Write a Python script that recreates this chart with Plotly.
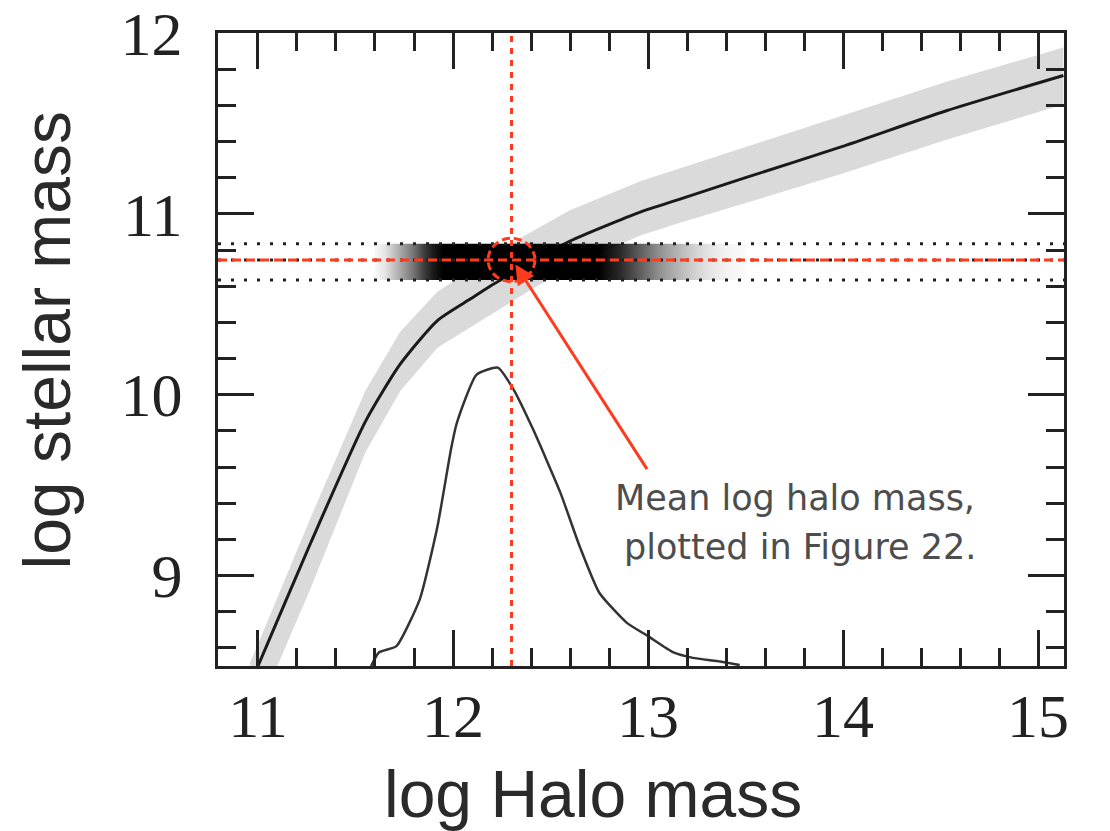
import plotly.graph_objects as go

# ---------------- data ----------------
# stellar-to-halo mass relation (mean line and scatter band)
shmr_x = [10.96, 11.00, 11.27, 11.55, 11.73, 11.92, 12.09, 12.19, 12.40, 12.60, 12.96, 13.16, 13.50, 13.99, 14.53, 15.13]
shmr_mean = [8.40, 8.50, 9.18, 9.85, 10.17, 10.41, 10.53, 10.60, 10.73, 10.85, 11.01, 11.08, 11.20, 11.37, 11.57, 11.765]
shmr_upper = [8.52, 8.62, 9.32, 10.02, 10.35, 10.57, 10.69, 10.77, 10.90, 11.02, 11.18, 11.25, 11.37, 11.54, 11.73, 11.92]
shmr_lower = [8.15, 8.25, 8.93, 9.68, 10.02, 10.26, 10.37, 10.44, 10.58, 10.71, 10.88, 10.95, 11.06, 11.22, 11.41, 11.605]

# halo-mass distribution curve (drawn in stellar-mass units)
hist_x = [11.58, 11.62, 11.71, 11.83, 11.92, 11.99, 12.02, 12.12, 12.23, 12.31, 12.41, 12.55,
          12.65, 12.75, 12.89, 13.00, 13.13, 13.23, 13.37, 13.47]
hist_y = [8.50, 8.575, 8.61, 8.87, 9.27, 9.70, 9.845, 10.11, 10.15, 10.03, 9.81, 9.46,
          9.16, 8.905, 8.74, 8.665, 8.575, 8.545, 8.525, 8.505]

# density of the galaxy point cloud inside the stellar-mass bin
cloud_x = [11.60, 11.65, 11.70, 11.75, 11.80, 11.85, 11.90, 11.95,
           12.00, 12.05, 12.10, 12.15, 12.20, 12.25, 12.30, 12.35,
           12.40, 12.45, 12.50, 12.55, 12.60, 12.65, 12.70, 12.75,
           12.80, 12.85, 12.90, 12.95, 13.00, 13.05, 13.10, 13.15,
           13.20, 13.25, 13.30, 13.35, 13.40, 13.45, 13.50]
cloud_density = [0.03, 0.10, 0.25, 0.40, 0.55, 0.75, 0.90, 1.00,
                 1.00, 1.00, 1.00, 1.00, 1.00, 1.00, 1.00, 1.00,
                 1.00, 1.00, 1.00, 1.00, 1.00, 1.00, 1.00, 1.00,
                 0.92, 0.85, 0.75, 0.65, 0.55, 0.45, 0.37, 0.30,
                 0.23, 0.17, 0.12, 0.08, 0.05, 0.03, 0.02]

# stellar-mass bin and means
bin_low = 10.634
bin_high = 10.835
mean_stellar = 10.745
mean_halo = 12.30

# arrow from label to the mean point
arrow_tail = (13.00, 9.58)
arrow_tip = (12.32, 10.72)

label_line1 = "Mean log halo mass,"
label_line2 = "plotted in Figure 22."
label_pos1 = (12.82, 9.43)
label_pos2 = (12.867, 9.16)

x_range = [10.795, 15.133]
y_range = [8.5, 12.0]
x_ticks = [11, 12, 13, 14, 15]
y_ticks = [9, 10, 11, 12]

RED = "#ff3b1e"
INK = "#222222"

fig = go.Figure()

# grey scatter band
fig.add_trace(go.Scatter(
    x=shmr_x + shmr_x[::-1], y=shmr_upper + shmr_lower[::-1],
    fill="toself", fillcolor="#dadada", line=dict(width=0),
    mode="lines", hoverinfo="skip", showlegend=False))

# mean relation
fig.add_trace(go.Scatter(
    x=shmr_x, y=shmr_mean, mode="lines",
    line=dict(color="#1a1a1a", width=3, shape="spline", smoothing=0.6),
    showlegend=False))

# halo mass distribution
fig.add_trace(go.Scatter(
    x=hist_x, y=hist_y, mode="lines",
    line=dict(color="#333333", width=2.5, shape="spline", smoothing=0.5),
    showlegend=False))

# point cloud as a horizontal density gradient
cx0, cx1 = cloud_x[0], cloud_x[-1]
gradient = [[(cx - cx0) / (cx1 - cx0), f"rgba(0,0,0,{d})"] for cx, d in zip(cloud_x, cloud_density)]
fig.add_trace(go.Scatter(
    x=[cx0, cx1, cx1, cx0, cx0], y=[bin_low, bin_low, bin_high, bin_high, bin_low],
    fill="toself", fillgradient=dict(type="horizontal", colorscale=gradient),
    line=dict(width=0), mode="lines", hoverinfo="skip", showlegend=False))

# dotted bin edges and mean
for yv in [bin_low, bin_high, mean_stellar]:
    fig.add_trace(go.Scatter(
        x=x_range, y=[yv, yv], mode="lines",
        line=dict(color="#222222", width=3, dash="3px,10px"),
        showlegend=False))

# red dashed mean stellar mass
fig.add_trace(go.Scatter(
    x=x_range, y=[mean_stellar, mean_stellar], mode="lines",
    line=dict(color=RED, width=3, dash="9px,5px"), showlegend=False))

# red dotted mean halo mass
fig.add_trace(go.Scatter(
    x=[mean_halo, mean_halo], y=y_range, mode="lines",
    line=dict(color=RED, width=3, dash="6px,6px"), showlegend=False))

# red dashed circle around the mean point
fig.add_shape(type="circle", xref="x", yref="y",
              x0=mean_halo - 0.12, x1=mean_halo + 0.12,
              y0=mean_stellar - 0.12, y1=mean_stellar + 0.12,
              line=dict(color=RED, width=3, dash="8px,4px"))

# arrow
fig.add_annotation(x=arrow_tip[0], y=arrow_tip[1], ax=arrow_tail[0], ay=arrow_tail[1],
                   xref="x", yref="y", axref="x", ayref="y", text="",
                   showarrow=True, arrowhead=2, arrowsize=1.3, arrowwidth=3,
                   arrowcolor=RED)

# label
for txt, pos in [(label_line1, label_pos1), (label_line2, label_pos2)]:
    fig.add_annotation(x=pos[0], y=pos[1], xref="x", yref="y", text=txt,
                       showarrow=False, xanchor="left", yanchor="middle",
                       font=dict(family="DejaVu Sans", size=35, color="#4d4d4d"))

# axis titles
fig.add_annotation(x=0.443, y=-0.202, xref="paper", yref="paper", text="log Halo mass",
                   showarrow=False, xanchor="center", yanchor="middle",
                   font=dict(family="Liberation Sans", size=66, color="#2a2a2a"))
fig.add_annotation(x=-0.2027, y=0.515, xref="paper", yref="paper", text="log stellar mass",
                   showarrow=False, xanchor="center", yanchor="middle", textangle=-90,
                   font=dict(family="Liberation Sans", size=66, color="#2a2a2a"))

axis_common = dict(
    showgrid=False, zeroline=False, showline=True, linewidth=3, linecolor=INK,
    mirror="ticks", ticks="inside", ticklen=36, tickwidth=3, tickcolor=INK,
    tickfont=dict(family="Liberation Serif", size=62, color=INK),
    ticklabeloverflow="allow", automargin=False,
    minor=dict(ticks="inside", ticklen=18, tickwidth=3, tickcolor=INK, dtick=0.2, showgrid=False),
)

fig.update_layout(
    width=1110, height=831,
    margin=dict(l=218, r=46, t=33, b=165, autoexpand=False),
    paper_bgcolor="white", plot_bgcolor="white",
    showlegend=False,
    xaxis=dict(range=x_range, tickmode="array", tickvals=x_ticks,
               ticklabelstandoff=-6, **axis_common),
    yaxis=dict(range=y_range, tickmode="array", tickvals=y_ticks,
               ticklabelstandoff=20, **axis_common),
)
fig.update_xaxes(minor_tick0=11)
fig.update_yaxes(minor_tick0=9)

fig.write_html("out.html")
